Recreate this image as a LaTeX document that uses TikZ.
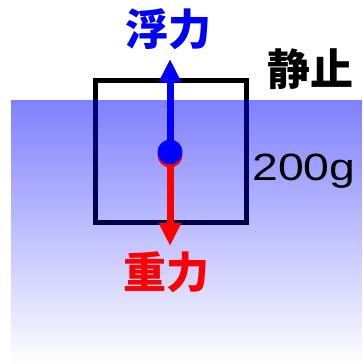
\documentclass[tikz,border=0pt]{standalone}
\usepackage{fontspec}
\newfontfamily\numfont{Liberation Sans}
\newfontfamily\jpfont{Noto Sans CJK JP}
\usetikzlibrary{arrows.meta,fadings}
\tikzfading[name=waterfade, top color=transparent!50, bottom color=transparent!100]

\begin{document}
\begin{tikzpicture}[x=1pt,y=-1pt,
  jlabel/.style={font=\jpfont\bfseries\fontsize{43}{43}\selectfont, inner sep=0pt},
  force/.style={line width=7pt, -{Triangle[width=21pt,length=23pt]}}]
\useasboundingbox (0,0) rectangle (362,364);
% block
\draw [line width=5pt] (95,80) rectangle (246,222);
% water
\fill [blue, path fading=waterfade] (11,100) rectangle (362,364);
% forces
\coordinate (c) at (170,152);
\coordinate (up) at (170,59);
\coordinate (down) at (170,246);
\draw [force,red] ([yshift=-3pt]c) -- (down);
\fill [red] ([yshift=-3pt]c) circle (12.5);
\draw [force,blue] (c) -- (up);
\fill [blue] (c) circle (12.5);
% labels
\node [jlabel,blue] (buoy) at (168,29) {浮力};
\node [jlabel,red] (grav) at (166,272) {重力};
\node [jlabel] (still) at (310,69) {静止};
\node [font=\numfont\fontsize{38}{38}\selectfont, inner sep=0pt, anchor=base west,
  xscale=1.22, transform shape] (mass) at (252,180) {200g};
\end{tikzpicture}
\end{document}
